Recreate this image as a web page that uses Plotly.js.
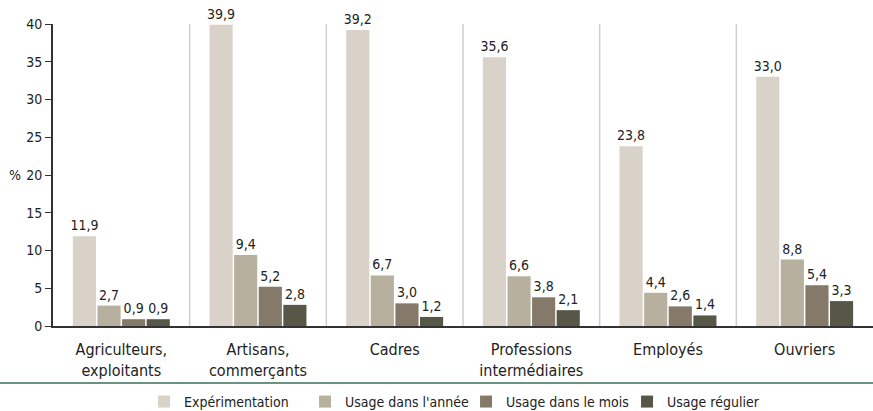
<!DOCTYPE html>
<html><head><meta charset="utf-8">
<script src="https://cdn.plot.ly/plotly-3.0.1.min.js"></script>
<style>html,body{margin:0;padding:0;background:#fff}#chart{width:873px;height:411px}
#chart svg text{font-stretch:condensed !important;}</style>
</head><body><div id="chart"></div>
<script>
const categories = ["Agriculteurs,<br>exploitants", "Artisans,<br>commerçants", "Cadres", "Professions<br>intermédiaires", "Employés", "Ouvriers"];
const seriesNames = ["Expérimentation", "Usage dans l'année", "Usage dans le mois", "Usage régulier"];
const experimentation = [11.9, 39.9, 39.2, 35.6, 23.8, 33.0];
const usageAnnee = [2.7, 9.4, 6.7, 6.6, 4.4, 8.8];
const usageMois = [0.9, 5.2, 3.0, 3.8, 2.6, 5.4];
const usageRegulier = [0.9, 2.8, 1.2, 2.1, 1.4, 3.3];
const yTicks = [0, 5, 10, 15, 20, 25, 30, 35, 40];

const colors = ["#d9d2c8", "#b8b09f", "#857a69", "#575748"];
const FONT = "'DejaVu Sans Condensed', 'DejaVu Sans', sans-serif";
const fmt = v => v.toFixed(1).replace('.', ',');

const allSeries = [experimentation, usageAnnee, usageMois, usageRegulier];
const traces = allSeries.map((vals, i) => ({
  type: 'bar',
  name: seriesNames[i],
  x: categories,
  y: vals,
  text: vals.map(fmt),
  textposition: 'outside',
  constraintext: 'none',
  cliponaxis: false,
  textfont: {family: FONT, size: 14, color: '#222'},
  marker: {color: colors[i]},
  hoverinfo: 'none'
}));

const shapes = [];
for (let i = 0; i < categories.length - 1; i++) {
  shapes.push({type: 'line', xref: 'x', yref: 'paper', x0: i + 0.5, x1: i + 0.5, y0: 0, y1: 1,
    line: {color: '#cfcfcf', width: 1.5}, layer: 'below'});
}
shapes.push({type: 'line', xref: 'paper', yref: 'paper', x0: -0.07, x1: 1.0, y0: -0.189, y1: -0.189,
  line: {color: '#6b9383', width: 2}});

const layout = {
  width: 873, height: 411,
  margin: {l: 53, r: 0, t: 24, b: 85, autoexpand: false},
  paper_bgcolor: '#fff', plot_bgcolor: '#fff',
  barmode: 'group', bargap: 0.28, bargroupgap: 0.06,
  font: {family: FONT, size: 14, color: '#222'},
  showlegend: true,
  legend: {orientation: 'h', x: 0.165, xref: 'container', xanchor: 'left', y: 0.022, yref: 'container', yanchor: 'middle',
    bgcolor: 'rgba(0,0,0,0)',
    font: {family: FONT, size: 14, color: '#222'}, itemwidth: 30, entrywidth: 116, tracegroupgap: 0},
  xaxis: {tickfont: {family: FONT, size: 16, color: '#222'}, showline: true, linecolor: '#333', linewidth: 2,
    ticks: '', ticklabelstandoff: 8, showgrid: false, zeroline: false, fixedrange: true},
  yaxis: {range: [0, 40], tickvals: yTicks, ticktext: yTicks.map(String), ticks: 'outside', ticklen: 6,
    tickcolor: '#333', tickwidth: 1, showline: true, linecolor: '#333', linewidth: 2, showgrid: false,
    zeroline: false, tickfont: {family: FONT, size: 14, color: '#222'}, fixedrange: true},
  shapes: shapes,
  annotations: [{text: '%', xref: 'paper', yref: 'y', x: -0.046, y: 20, xanchor: 'center', yanchor: 'middle',
    showarrow: false, font: {family: FONT, size: 14, color: '#222'}}]
};

Plotly.newPlot('chart', traces, layout, {displayModeBar: false, staticPlot: true});
</script></body></html>
